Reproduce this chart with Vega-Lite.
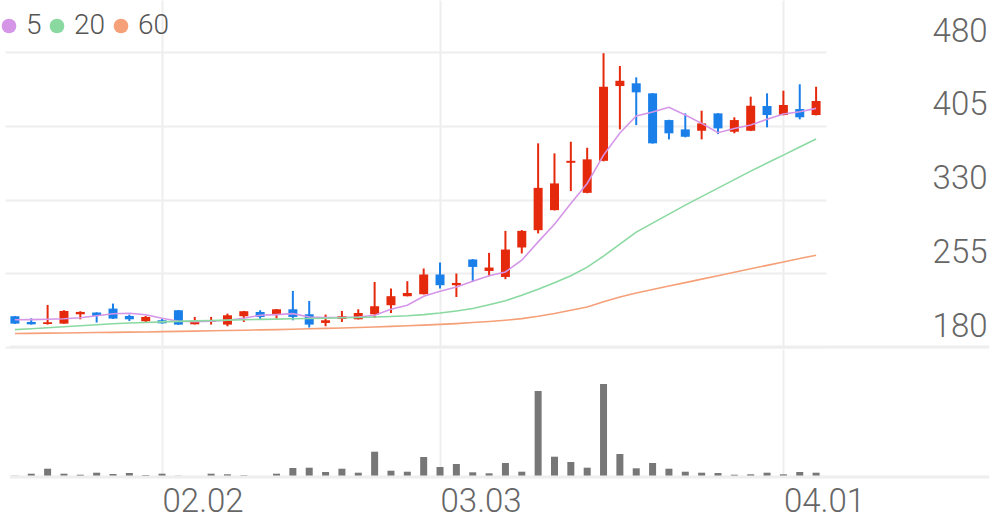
{
  "$schema": "https://vega.github.io/schema/vega-lite/v6.json",
  "padding": {"left": -5, "top": 0, "right": 0, "bottom": 0},
  "spacing": 0,
  "config": {"view": {"stroke": null}, "font": "Roboto"},
  "data": {"values": [
    {"d":"01.20","i":0,"o":211.3,"h":211.5,"l":203.5,"c":203.8,"v":26000,"ma5":207.7,"ma20":197.7,"ma60":193.7},
    {"d":"01.21","i":1,"o":205.5,"h":209.2,"l":202.8,"c":203.1,"v":66000,"ma5":207.9,"ma20":198.5,"ma60":193.9},
    {"d":"01.22","i":2,"o":203.4,"h":222.8,"l":202.8,"c":205.2,"v":166000,"ma5":208.2,"ma20":199.6,"ma60":194.1},
    {"d":"01.23","i":3,"o":203.8,"h":217.4,"l":203.6,"c":216.7,"v":66000,"ma5":208.7,"ma20":200.6,"ma60":194.3},
    {"d":"01.26","i":4,"o":213.3,"h":216.4,"l":208.2,"c":215.7,"v":46000,"ma5":209.8,"ma20":201.6,"ma60":194.5},
    {"d":"01.27","i":5,"o":215.1,"h":215.3,"l":204.9,"c":211.6,"v":86000,"ma5":211.8,"ma20":202.6,"ma60":194.7},
    {"d":"01.28","i":6,"o":219.1,"h":224.2,"l":208.5,"c":208.9,"v":60000,"ma5":213.8,"ma20":203.6,"ma60":194.9},
    {"d":"01.29","i":7,"o":211.6,"h":213.0,"l":206.5,"c":208.2,"v":80000,"ma5":214.3,"ma20":204.4,"ma60":195.1},
    {"d":"01.30","i":8,"o":206.2,"h":211.6,"l":205.5,"c":210.6,"v":40000,"ma5":212.8,"ma20":205.0,"ma60":195.3},
    {"d":"02.02","i":9,"o":207.2,"h":208.5,"l":203.8,"c":204.1,"v":66000,"ma5":209.2,"ma20":205.6,"ma60":195.6},
    {"d":"02.03","i":10,"o":217.4,"h":217.7,"l":202.5,"c":202.8,"v":26000,"ma5":206.2,"ma20":206.1,"ma60":195.9},
    {"d":"02.04","i":11,"o":203.1,"h":210.6,"l":203.0,"c":205.5,"v":14000,"ma5":205.7,"ma20":206.6,"ma60":196.2},
    {"d":"02.05","i":12,"o":205.5,"h":210.6,"l":202.8,"c":207.2,"v":66000,"ma5":206.2,"ma20":207.0,"ma60":196.5},
    {"d":"02.06","i":13,"o":202.8,"h":214.0,"l":201.1,"c":212.3,"v":54000,"ma5":207.2,"ma20":207.4,"ma60":196.8},
    {"d":"02.09","i":14,"o":211.3,"h":216.7,"l":205.5,"c":216.4,"v":34000,"ma5":209.2,"ma20":207.8,"ma60":197.1},
    {"d":"02.10","i":15,"o":215.7,"h":217.4,"l":207.9,"c":210.6,"v":20000,"ma5":212.3,"ma20":208.1,"ma60":197.4},
    {"d":"02.11","i":16,"o":213.3,"h":218.7,"l":208.9,"c":218.4,"v":66000,"ma5":213.0,"ma20":208.4,"ma60":197.7},
    {"d":"02.12","i":17,"o":218.4,"h":237.1,"l":207.2,"c":210.6,"v":180000,"ma5":214.0,"ma20":208.7,"ma60":198.1},
    {"d":"02.13","i":18,"o":213.3,"h":226.9,"l":199.8,"c":202.8,"v":186000,"ma5":210.6,"ma20":209.0,"ma60":198.5},
    {"d":"02.19","i":19,"o":204.5,"h":213.0,"l":201.1,"c":207.2,"v":100000,"ma5":210.0,"ma20":209.3,"ma60":199.0},
    {"d":"02.20","i":20,"o":208.5,"h":216.7,"l":205.5,"c":211.3,"v":166000,"ma5":210.0,"ma20":209.7,"ma60":199.4},
    {"d":"02.23","i":21,"o":208.2,"h":218.4,"l":208.0,"c":214.6,"v":86000,"ma5":210.6,"ma20":210.1,"ma60":199.9},
    {"d":"02.24","i":22,"o":213.3,"h":246.2,"l":209.6,"c":221.5,"v":506000,"ma5":212.3,"ma20":210.5,"ma60":200.4},
    {"d":"02.25","i":23,"o":222.5,"h":239.5,"l":214.6,"c":231.7,"v":126000,"ma5":218.4,"ma20":211.0,"ma60":201.0},
    {"d":"02.26","i":24,"o":231.7,"h":247.0,"l":231.5,"c":235.0,"v":106000,"ma5":222.5,"ma20":211.8,"ma60":201.6},
    {"d":"02.27","i":25,"o":233.7,"h":259.9,"l":233.5,"c":253.8,"v":400000,"ma5":231.7,"ma20":213.0,"ma60":202.3},
    {"d":"03.03","i":26,"o":253.8,"h":266.0,"l":239.5,"c":242.9,"v":200000,"ma5":236.8,"ma20":214.6,"ma60":203.0},
    {"d":"03.04","i":27,"o":242.9,"h":254.8,"l":230.9,"c":245.2,"v":260000,"ma5":241.1,"ma20":216.7,"ma60":203.8},
    {"d":"03.05","i":28,"o":269.1,"h":269.5,"l":246.2,"c":261.5,"v":94000,"ma5":247.0,"ma20":219.1,"ma60":204.9},
    {"d":"03.06","i":29,"o":257.4,"h":275.8,"l":252.0,"c":260.9,"v":74000,"ma5":252.6,"ma20":223.0,"ma60":206.0},
    {"d":"03.09","i":30,"o":251.3,"h":298.2,"l":249.0,"c":279.2,"v":280000,"ma5":256.4,"ma20":227.1,"ma60":207.3},
    {"d":"03.10","i":31,"o":281.3,"h":299.0,"l":275.2,"c":298.2,"v":106000,"ma5":268.3,"ma20":232.7,"ma60":208.9},
    {"d":"03.11","i":32,"o":298.9,"h":387.3,"l":295.6,"c":342.0,"v":1720000,"ma5":287.0,"ma20":238.8,"ma60":211.3},
    {"d":"03.12","i":33,"o":319.3,"h":377.1,"l":319.0,"c":346.5,"v":406000,"ma5":305.0,"ma20":245.4,"ma60":214.1},
    {"d":"03.13","i":34,"o":367.5,"h":388.9,"l":338.7,"c":369.5,"v":300000,"ma5":326.1,"ma20":252.6,"ma60":217.4},
    {"d":"03.16","i":35,"o":336.9,"h":382.8,"l":336.5,"c":371.0,"v":186000,"ma5":346.5,"ma20":261.3,"ma60":220.8},
    {"d":"03.17","i":36,"o":369.5,"h":479.0,"l":369.0,"c":444.9,"v":1860000,"ma5":375.3,"ma20":272.5,"ma60":226.1},
    {"d":"03.18","i":37,"o":445.6,"h":466.0,"l":401.5,"c":451.0,"v":460000,"ma5":397.8,"ma20":284.7,"ma60":230.8},
    {"d":"03.19","i":38,"o":448.4,"h":454.5,"l":405.9,"c":439.2,"v":174000,"ma5":415.1,"ma20":296.9,"ma60":235.0},
    {"d":"03.20","i":39,"o":438.2,"h":438.5,"l":387.0,"c":387.3,"v":280000,"ma5":419.2,"ma20":306.1,"ma60":238.6},
    {"d":"03.23","i":40,"o":411.0,"h":411.3,"l":391.3,"c":397.5,"v":166000,"ma5":424.0,"ma20":315.2,"ma60":242.1},
    {"d":"03.24","i":41,"o":401.5,"h":417.8,"l":393.4,"c":394.0,"v":106000,"ma5":416.1,"ma20":324.4,"ma60":245.5},
    {"d":"03.25","i":42,"o":400.1,"h":420.5,"l":391.3,"c":407.6,"v":86000,"ma5":407.6,"ma20":333.1,"ma60":249.1},
    {"d":"03.26","i":43,"o":417.8,"h":418.0,"l":396.7,"c":402.5,"v":80000,"ma5":398.1,"ma20":341.7,"ma60":252.6},
    {"d":"03.27","i":44,"o":399.1,"h":413.8,"l":397.5,"c":411.0,"v":46000,"ma5":402.5,"ma20":350.4,"ma60":256.0},
    {"d":"03.30","i":45,"o":400.1,"h":434.8,"l":399.8,"c":425.6,"v":54000,"ma5":405.9,"ma20":359.0,"ma60":259.6},
    {"d":"03.31","i":46,"o":425.3,"h":438.2,"l":403.6,"c":416.1,"v":86000,"ma5":411.7,"ma20":367.2,"ma60":263.1},
    {"d":"04.01","i":47,"o":416.1,"h":440.9,"l":415.8,"c":426.3,"v":54000,"ma5":417.1,"ma20":375.3,"ma60":266.5},
    {"d":"04.02","i":48,"o":422.2,"h":447.4,"l":411.7,"c":413.8,"v":100000,"ma5":419.5,"ma20":383.5,"ma60":270.0},
    {"d":"04.03","i":49,"o":416.1,"h":444.9,"l":415.8,"c":430.4,"v":86000,"ma5":422.9,"ma20":391.7,"ma60":273.4}
  ]},
  "vconcat": [
    {
      "width": 821,
      "height": 347,
      "layer": [
        {
          "mark": {"type": "rule", "strokeWidth": 2},
          "encoding": {
            "x": {"field": "i", "type": "quantitative",
                  "scale": {"domain": [-0.3, 49.3], "nice": false, "zero": false},
                  "axis": {"values": [9, 26, 47], "labels": false, "ticks": false, "domain": false, "grid": true, "gridColor": "#eeeeee", "gridWidth": 2, "title": null}},
            "y": {"field": "l", "type": "quantitative",
                  "scale": {"domain": [180, 533.2], "nice": false, "zero": false},
                  "axis": {"orient": "right", "values": [180, 255, 330, 405, 480], "ticks": false, "tickSize": 0, "domain": false, "grid": true, "gridColor": "#eeeeee", "gridWidth": 2, "title": null,
                           "labelAlign": "right", "labelBaseline": "middle", "labelPadding": 161, "labelOffset": -21, "labelFontSize": 33, "labelFont": "Roboto", "labelFontWeight": 300, "labelColor": "#666666"}},
            "y2": {"field": "h"},
            "color": {"condition": {"test": "datum.c >= datum.o", "value": "#e5290c"}, "value": "#1a7fe9"}
          }
        },
        {
          "mark": {"type": "bar", "size": 9},
          "encoding": {
            "x": {"field": "i", "type": "quantitative"},
            "y": {"field": "o", "type": "quantitative"},
            "y2": {"field": "c"},
            "color": {"condition": {"test": "datum.c >= datum.o", "value": "#e5290c"}, "value": "#1a7fe9"}
          }
        },
        {
          "transform": [{"fold": ["ma5", "ma20", "ma60"], "as": ["key", "val"]}],
          "mark": {"type": "line", "strokeWidth": 1.6},
          "encoding": {
            "x": {"field": "i", "type": "quantitative"},
            "y": {"field": "val", "type": "quantitative"},
            "color": {"field": "key", "type": "nominal",
                      "scale": {"domain": ["ma5", "ma20", "ma60"], "range": ["#d596e8", "#8ad9a1", "#f5a078"]},
                      "legend": {"orient": "none", "legendX": -10, "legendY": 12, "direction": "horizontal", "title": null,
                                 "symbolType": "circle", "symbolSize": 215, "symbolStrokeWidth": 0, "symbolOpacity": 1,
                                 "labelFontSize": 28, "labelFont": "Roboto", "labelFontWeight": 300, "labelColor": "#555555",
                                 "labelOffset": 3, "columnPadding": 1, "padding": 0, "labelExpr": "slice(datum.label, 2)",
                                 "encode": {"symbols": {"update": {"fill": {"scale": "color", "field": "value"}, "strokeWidth": {"value": 0}}}}}}
          }
        },
        {
          "data": {"values": [{}]},
          "mark": {"type": "rule", "color": "#eeeeee", "strokeWidth": 3, "clip": false},
          "encoding": {
            "x": {"datum": -0.3, "type": "quantitative"},
            "x2": {"datum": 59.6},
            "y": {"datum": 180, "type": "quantitative"}
          }
        }
      ]
    },
    {
      "width": 821,
      "height": 128,
      "layer": [
        {
          "mark": {"type": "bar", "size": 7, "color": "#777777"},
          "encoding": {
            "x": {"field": "i", "type": "quantitative",
                  "scale": {"domain": [-0.3, 49.3], "nice": false, "zero": false},
                  "axis": {"values": [9, 26, 47], "ticks": false, "domain": false, "grid": true, "gridColor": "#eeeeee", "gridWidth": 2, "title": null,
                           "labelExpr": "datum.value == 9 ? '02.02' : datum.value == 26 ? '03.03' : '04.01'",
                           "labelAlign": "left", "labelBaseline": "top", "labelPadding": 8, "labelFontSize": 33, "labelFont": "Roboto", "labelFontWeight": 300, "labelColor": "#666666",
                           "labelOverlap": false, "labelFlush": false, "labelBound": false}},
            "y": {"field": "v", "type": "quantitative", "scale": {"domain": [0, 2560000], "nice": false}, "axis": null}
          }
        },
        {
          "data": {"values": [{}]},
          "mark": {"type": "rule", "color": "#eeeeee", "strokeWidth": 3, "clip": false},
          "encoding": {
            "x": {"datum": -0.3, "type": "quantitative"},
            "x2": {"datum": 59.6},
            "y": {"datum": 0, "type": "quantitative", "axis": null}
          }
        }
      ]
    }
  ]
}
